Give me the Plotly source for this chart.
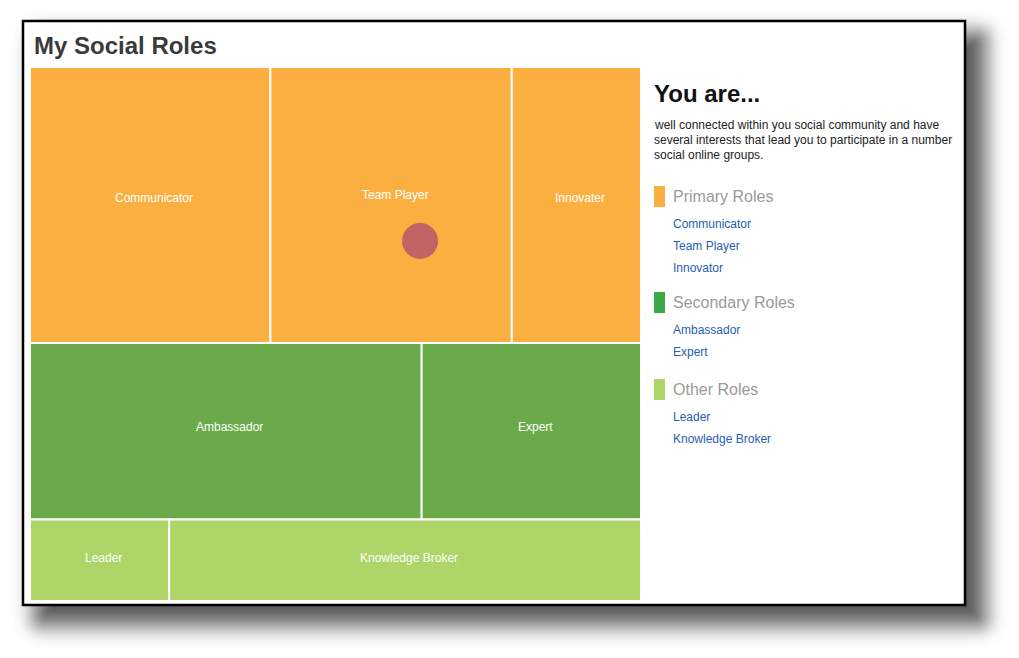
import math
import plotly.graph_objects as go

W, H = 1019, 658

# ---------------- data ----------------
groups = ["Primary Roles", "Secondary Roles", "Other Roles"]
group_colors = ["#FBAF40", "#6BAA4A", "#ADD567"]
legend_colors = ["#FBAF40", "#3AAA49", "#ADD567"]
tile_labels = [
    ["Communicator", "Team Player", "Innovater"],
    ["Ambassador", "Expert"],
    ["Leader", "Knowledge Broker"],
]
tile_values = [
    [24.0, 24.1, 12.9],
    [25.0, 14.0],
    [4.1, 13.9],
]
list_labels = [
    ["Communicator", "Team Player", "Innovator"],
    ["Ambassador", "Expert"],
    ["Leader", "Knowledge Broker"],
]
marker_tile = (0, 1)          # the "you" marker sits in Team Player
marker_rel = (0.62, 0.63)     # relative position inside that tile

title_text = "My Social Roles"
heading_text = "You are..."
description_lines = [
    "well connected within you social community and have",
    "several interests that lead you to participate in a number",
    "social online groups.",
]

FONT = "Arial, Liberation Sans, sans-serif"

PLOT_X0, PLOT_X1, PLOT_Y0, PLOT_Y1 = 30, 641, 67, 601


def px(x):
    return x / W


def py(y):
    return 1 - y / H


def rounded_rect_path(x0, y0, x1, y1, r):
    """SVG path (paper coords) for a rounded rectangle given in pixels."""
    r = max(0.0, min(r, (x1 - x0) / 2, (y1 - y0) / 2))
    P = lambda x, y: f"{px(x):.5f},{py(y):.5f}"
    return (f"M{P(x0 + r, y0)} L{P(x1 - r, y0)} Q{P(x1, y0)} {P(x1, y0 + r)} "
            f"L{P(x1, y1 - r)} Q{P(x1, y1)} {P(x1 - r, y1)} "
            f"L{P(x0 + r, y1)} Q{P(x0, y1)} {P(x0, y1 - r)} "
            f"L{P(x0, y0 + r)} Q{P(x0, y0)} {P(x0 + r, y0)} Z")


fig = go.Figure()
shapes = []
annotations = []

# ---------------- frame with soft drop shadow ----------------
fx0, fy0, fx1, fy1 = 23, 21, 965, 605
off = 16
sigma = 12.0
B = 36
for s in range(B, -B - 1, -1):
    a = 0.035 * math.exp(-(s * s) / (2 * sigma * sigma))
    shapes.append(dict(type="path", xref="paper", yref="paper",
                       path=rounded_rect_path(fx0 + off - s, fy0 + off - s,
                                              fx1 + off + s, fy1 + off + s,
                                              max(s + 8, 2)),
                       fillcolor=f"rgba(0,0,0,{a:.4f})", line=dict(width=0),
                       layer="below"))
shapes.append(dict(type="rect", xref="paper", yref="paper",
                   x0=px(fx0), x1=px(fx1), y0=py(fy1), y1=py(fy0),
                   fillcolor="white", line=dict(color="black", width=2.5),
                   layer="below"))

# ---------------- treemap tiles (slice rows, dice columns) ----------------
plot_h = PLOT_Y1 - PLOT_Y0
total = sum(sum(v) for v in tile_values)
y_cursor = 0.0
tile_boxes = {}
for gi, vals in enumerate(tile_values):
    gsum = sum(vals)
    h = gsum / total
    x_cursor = 0.0
    for ti, v in enumerate(vals):
        w = v / gsum
        x0, x1, y0, y1 = x_cursor, x_cursor + w, y_cursor, y_cursor + h
        tile_boxes[(gi, ti)] = (x0, x1, y0, y1)
        shapes.append(dict(type="rect", xref="x", yref="y",
                           x0=x0, x1=x1, y0=y0, y1=y1,
                           fillcolor=group_colors[gi],
                           line=dict(color="white", width=2), layer="below"))
        shift = 10 if (gi, ti) == marker_tile else 0.026 * h * plot_h
        annotations.append(dict(x=(x0 + x1) / 2, y=(y0 + y1) / 2, xref="x", yref="y",
                                text=tile_labels[gi][ti], showarrow=False,
                                yshift=shift, xshift=4,
                                font=dict(family=FONT, size=12, color="white")))
        x_cursor = x1
    y_cursor += h

# marker
bx0, bx1, by0, by1 = tile_boxes[marker_tile]
mx = bx0 + marker_rel[0] * (bx1 - bx0)
my = by0 + marker_rel[1] * (by1 - by0)
fig.add_trace(go.Scatter(x=[mx], y=[my], mode="markers",
                         marker=dict(size=36, color="#BF6565", line=dict(width=0)),
                         hoverinfo="skip", showlegend=False))

fig.update_xaxes(range=[0, 1], domain=[px(PLOT_X0), px(PLOT_X1)], visible=False,
                 fixedrange=True)
fig.update_yaxes(range=[1, 0], domain=[py(PLOT_Y1), py(PLOT_Y0)], visible=False,
                 fixedrange=True)

# ---------------- texts ----------------
annotations.append(dict(x=px(32), y=py(45), xref="paper", yref="paper", xanchor="left",
                        yanchor="middle", text="<b>" + title_text + "</b>", showarrow=False,
                        font=dict(family=FONT, size=24, color="#3a3a3a")))
annotations.append(dict(x=px(652), y=py(93), xref="paper", yref="paper", xanchor="left",
                        yanchor="middle", text="<b>" + heading_text + "</b>", showarrow=False,
                        font=dict(family=FONT, size=24, color="#111111")))
for i, line in enumerate(description_lines):
    annotations.append(dict(x=px(652), y=py(125 + 15 * i), xref="paper", yref="paper",
                            xanchor="left", yanchor="middle", text=line, showarrow=False,
                            font=dict(family=FONT, size=12, color="#222222")))

group_y = [196, 302, 389]
for gi, g in enumerate(groups):
    y = group_y[gi]
    shapes.append(dict(type="rect", xref="paper", yref="paper",
                       x0=px(654), x1=px(665), y0=py(y + 11), y1=py(y - 10),
                       fillcolor=legend_colors[gi], line=dict(width=0)))
    annotations.append(dict(x=px(671), y=py(y), xref="paper", yref="paper", xanchor="left",
                            yanchor="middle", text=g, showarrow=False,
                            font=dict(family=FONT, size=16, color="#9a9a9a")))
    yy = y + 28
    for lab in list_labels[gi]:
        annotations.append(dict(x=px(671), y=py(yy), xref="paper", yref="paper",
                                xanchor="left", yanchor="middle", text=lab, showarrow=False,
                                font=dict(family=FONT, size=12, color="#2a5db0")))
        yy += 22

fig.update_layout(width=W, height=H, margin=dict(l=0, r=0, t=0, b=0),
                  paper_bgcolor="white", plot_bgcolor="rgba(0,0,0,0)",
                  shapes=shapes, annotations=annotations, showlegend=False)

fig.write_html("out.html", config={"displayModeBar": False},
               post_script="document.body.style.margin='0px';")
